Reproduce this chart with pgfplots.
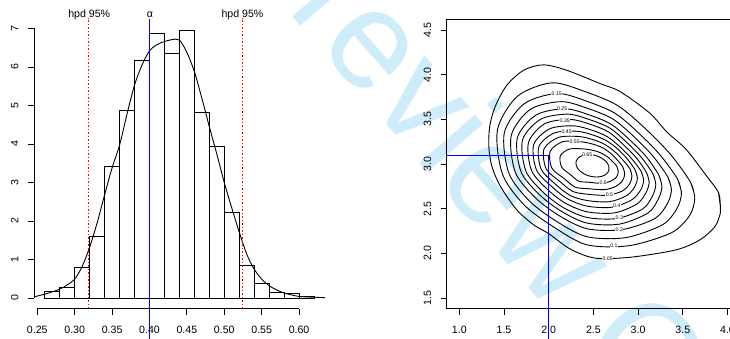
\documentclass[border=0pt]{standalone}
\usepackage{pgfplots}
\pgfplotsset{compat=1.18}
\usepackage{fontspec}
\setmainfont{Liberation Sans}
\definecolor{wm}{RGB}{207,236,250}
\pgfplotsset{rstyle/.style={
  scale only axis, anchor=south west, clip=false,
  tick align=outside, xtick pos=left, ytick pos=left,
  major tick length=6pt,
  tick style={black, line width=0.8pt},
  ticklabel style={font=\fontsize{10.6}{12}\selectfont},
  /pgf/number format/assume math mode=true,
  yticklabel style={xshift=-6pt, rotate=90, anchor=south},
},
cont/.style={color=black, line width=0.9pt, smooth, no markers, solid}}
\begin{document}
\begin{tikzpicture}[x=1pt,y=1pt]
% watermark
\node[rotate=-49, anchor=base west, text=wm, inner sep=0pt, font=\fontsize{140}{140}\selectfont] at (225,399) {Preview Copy};

% ---------- left panel: histogram ----------
\begin{axis}[rstyle,
  at={(34.0pt,29.2pt)}, width=290.8pt, height=291.1pt,
  xmin=0.2456, xmax=0.6344, ymin=-0.28, ymax=7.28,
  axis line style={draw=none},
  xtick={0.25,0.30,0.35,0.40,0.45,0.50,0.55,0.60},
  ytick={0,1,2,3,4,5,6,7},
  xticklabel style={yshift=-8pt, /pgf/number format/fixed, /pgf/number format/fixed zerofill, /pgf/number format/precision=2},
]
\addplot[ybar, bar width=0.02, bar shift=0pt, draw=black, fill=none, line width=0.8pt] coordinates {
 (0.27,0.18) (0.29,0.28) (0.31,0.80) (0.33,1.60) (0.35,3.41) (0.37,4.88)
 (0.39,6.16) (0.41,6.86) (0.43,6.36) (0.45,6.96) (0.47,4.83) (0.49,3.94)
 (0.51,2.23) (0.53,0.84) (0.55,0.38) (0.57,0.14) (0.59,0.13) (0.61,0.04)};
\addplot[color=black, line width=0.9pt, smooth, no markers] coordinates {
 (0.2456,0.03) (0.26,0.10) (0.27,0.16) (0.28,0.23) (0.29,0.34) (0.30,0.49)
 (0.31,0.82) (0.32,1.32) (0.33,1.95) (0.34,2.68) (0.35,3.38) (0.36,3.97)
 (0.37,4.78) (0.38,5.53) (0.39,6.05) (0.40,6.42) (0.41,6.58) (0.42,6.66)
 (0.43,6.71) (0.44,6.70) (0.45,6.38) (0.46,5.88) (0.47,5.19) (0.48,4.45)
 (0.49,3.74) (0.50,3.00) (0.51,2.34) (0.52,1.71) (0.53,1.14) (0.54,0.75)
 (0.55,0.49) (0.56,0.32) (0.57,0.21) (0.58,0.13) (0.59,0.08) (0.60,0.04)
 (0.61,0.03) (0.62,0.02) (0.6344,0.01)};
\addplot[color=red, line width=1pt, dash pattern=on 1.5pt off 2pt, no markers] coordinates {(0.3191,-0.28) (0.3191,7.28)};
\addplot[color=red, line width=1pt, dash pattern=on 1.5pt off 2pt, no markers] coordinates {(0.5246,-0.28) (0.5246,7.28)};
\addplot[color=blue, line width=1.1pt, no markers] coordinates {(0.40,7.25) (0.40,-1.2)};
\draw[line width=0.8pt] (axis cs:0.25,-0.28) -- (axis cs:0.60,-0.28);
\draw[line width=0.8pt] (axis cs:0.2456,0) -- (axis cs:0.2456,7);
\end{axis}
\node[font=\fontsize{10.6}{12}\selectfont] at (89.2,323) {hpd 95\%};
\node[font=\fontsize{10.6}{12}\selectfont] at (150,323) {α};
\node[font=\fontsize{10.6}{12}\selectfont] at (242.5,323) {hpd 95\%};

% ---------- right panel: contours ----------
\begin{axis}[rstyle,
  at={(446.8pt,29.3pt)}, width=337.9pt, height=289.4pt,
  xmin=0.86, xmax=4.64, ymin=1.38, ymax=4.62,
  axis line style={black, line width=0.8pt},
  xtick={1,1.5,2,2.5,3,3.5,4,4.5},
  ytick={1.5,2,2.5,3,3.5,4,4.5},
  xticklabel style={yshift=-8pt, /pgf/number format/fixed, /pgf/number format/fixed zerofill, /pgf/number format/precision=1},
  yticklabel style={/pgf/number format/fixed, /pgf/number format/fixed zerofill, /pgf/number format/precision=1},
]
% 0.05
\addplot[cont] coordinates {(3.92,2.52) (3.90,2.68) (3.77,2.86) (3.54,3.16) (3.32,3.36) (3.13,3.57) (2.80,3.81) (2.575,3.90) (2.20,4.05) (1.94,4.11) (1.72,4.05) (1.53,3.88) (1.40,3.64) (1.34,3.42) (1.33,3.19) (1.365,2.97) (1.46,2.75) (1.64,2.49) (1.83,2.32) (2.00,2.22) (2.22,2.06) (2.42,1.97) (2.60,1.94) (2.95,1.96) (3.43,2.04) (3.69,2.15) (3.86,2.30) (3.92,2.45) (3.92,2.52) (3.90,2.68)};
% 0.1
\addplot[cont] coordinates {(3.634,2.619) (3.584,2.800) (3.344,3.129) (3.021,3.452) (2.758,3.662) (2.429,3.802) (2.041,3.909) (1.651,3.759) (1.427,3.384) (1.482,2.889) (1.723,2.544) (2.046,2.301) (2.424,2.096) (2.896,2.085) (3.372,2.230) (3.576,2.423) (3.634,2.619) (3.584,2.800)};
% 0.15
\addplot[cont] coordinates {(3.485,2.671) (3.441,2.831) (3.236,3.113) (2.962,3.388) (2.733,3.573) (2.447,3.695) (2.102,3.789) (1.731,3.678) (1.504,3.353) (1.554,2.898) (1.785,2.585) (2.081,2.362) (2.426,2.186) (2.857,2.175) (3.269,2.317) (3.433,2.498) (3.485,2.671) (3.441,2.831)};
% 0.2
\addplot[cont] coordinates {(3.373,2.710) (3.333,2.854) (3.156,3.100) (2.917,3.340) (2.714,3.506) (2.460,3.614) (2.148,3.698) (1.796,3.613) (1.581,3.321) (1.627,2.906) (1.848,2.625) (2.115,2.423) (2.429,2.275) (2.818,2.265) (3.185,2.388) (3.326,2.554) (3.373,2.710) (3.333,2.854)};
% 0.25
\addplot[cont] coordinates {(3.267,2.746) (3.231,2.877) (3.085,3.089) (2.878,3.297) (2.697,3.446) (2.472,3.543) (2.188,3.618) (1.860,3.549) (1.649,3.293) (1.690,2.914) (1.896,2.657) (2.142,2.470) (2.431,2.338) (2.791,2.327) (3.110,2.451) (3.225,2.607) (3.267,2.746) (3.231,2.877)};
% 0.3
\addplot[cont] coordinates {(3.198,2.770) (3.165,2.891) (3.031,3.081) (2.848,3.265) (2.684,3.402) (2.480,3.489) (2.219,3.558) (1.908,3.500) (1.707,3.269) (1.745,2.920) (1.938,2.684) (2.165,2.511) (2.432,2.401) (2.764,2.390) (3.053,2.498) (3.160,2.641) (3.198,2.770) (3.165,2.891)};
% 0.35
\addplot[cont] coordinates {(3.124,2.796) (3.093,2.906) (2.977,3.072) (2.818,3.233) (2.672,3.357) (2.489,3.436) (2.249,3.498) (1.957,3.452) (1.774,3.241) (1.808,2.927) (1.986,2.715) (2.192,2.558) (2.434,2.464) (2.737,2.453) (2.988,2.553) (3.088,2.679) (3.124,2.796) (3.093,2.906)};
% 0.4
\addplot[cont] coordinates {(3.062,2.817) (3.033,2.919) (2.924,3.064) (2.788,3.201) (2.657,3.305) (2.499,3.373) (2.285,3.427) (2.013,3.395) (1.832,3.218) (1.863,2.934) (2.034,2.747) (2.219,2.605) (2.436,2.527) (2.709,2.516) (2.932,2.601) (3.029,2.710) (3.062,2.817) (3.033,2.919)};
% 0.45
\addplot[cont] coordinates {(2.992,2.842) (2.966,2.934) (2.879,3.057) (2.764,3.174) (2.645,3.261) (2.508,3.320) (2.315,3.367) (2.061,3.347) (1.890,3.194) (1.917,2.940) (2.076,2.774) (2.242,2.646) (2.438,2.590) (2.682,2.578) (2.875,2.648) (2.962,2.745) (2.992,2.842) (2.966,2.934)};
% 0.5
\addplot[cont] coordinates {(2.931,2.863) (2.908,2.947) (2.826,3.049) (2.734,3.142) (2.632,3.216) (2.517,3.266) (2.346,3.307) (2.110,3.298) (1.948,3.170) (1.971,2.946) (2.124,2.805) (2.269,2.693) (2.440,2.661) (2.651,2.650) (2.819,2.695) (2.904,2.775) (2.931,2.863) (2.908,2.947)};
% 0.55
\addplot[cont] coordinates {(2.850,2.891) (2.830,2.964) (2.772,3.040) (2.704,3.110) (2.619,3.172) (2.526,3.213) (2.376,3.247) (2.158,3.250) (2.016,3.142) (2.035,2.954) (2.173,2.837) (2.296,2.741) (2.442,2.724) (2.624,2.713) (2.754,2.751) (2.827,2.816) (2.850,2.891) (2.830,2.964)};
% 0.6
\addplot[cont] coordinates {(2.778,2.916) (2.760,2.979) (2.710,3.031) (2.670,3.072) (2.603,3.113) (2.537,3.142) (2.417,3.166) (2.238,3.169) (2.131,3.094) (2.144,2.966) (2.242,2.882) (2.334,2.808) (2.444,2.796) (2.593,2.784) (2.688,2.806) (2.758,2.852) (2.778,2.916) (2.760,2.979)};
% 0.65
\addplot[cont] coordinates {(2.6735,2.9308) (2.671,2.979) (2.642,3.027) (2.589,3.068) (2.521,3.096) (2.448,3.106) (2.382,3.097) (2.332,3.070) (2.3065,3.029) (2.309,2.981) (2.338,2.933) (2.391,2.892) (2.459,2.864) (2.532,2.854) (2.598,2.863) (2.648,2.890) (2.6735,2.9308) (2.671,2.979)};
% contour labels
\begin{scope}[every node/.style={fill=white, inner sep=0.4pt, font=\fontsize{5.2}{6}\selectfont}]
\node at (axis cs:2.09,3.79) {0.15};
\node at (axis cs:2.15,3.615) {0.25};
\node at (axis cs:2.18,3.49) {0.35};
\node at (axis cs:2.20,3.36) {0.45};
\node at (axis cs:2.29,3.25) {0.55};
\node at (axis cs:2.43,3.10) {0.65};
\node at (axis cs:2.61,2.787) {0.6};
\node at (axis cs:2.68,2.655) {0.5};
\node at (axis cs:2.76,2.53) {0.4};
\node at (axis cs:2.79,2.40) {0.3};
\node at (axis cs:2.79,2.26) {0.2};
\node at (axis cs:2.73,2.09) {0.1};
\node at (axis cs:2.66,1.943) {0.05};
\end{scope}
\addplot[color=blue, line width=1.1pt, sharp plot, no markers] coordinates {(0.86,3.1) (2.0,3.1) (2.0,1.0)};
\end{axis}
\pgfresetboundingbox
\useasboundingbox (0,0) rectangle (730,338);
\end{tikzpicture}
\end{document}
